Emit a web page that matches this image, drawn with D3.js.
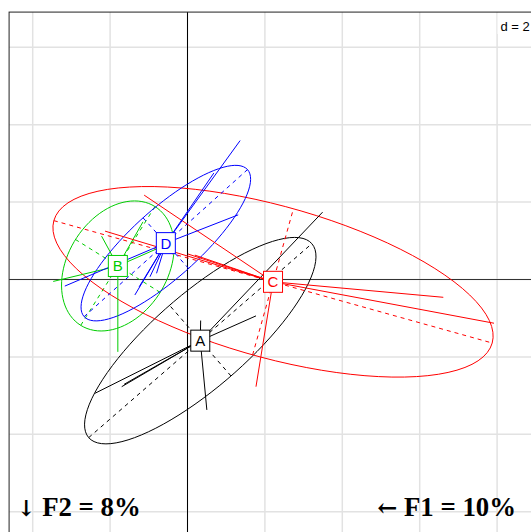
<!DOCTYPE html>
<html><head><meta charset="utf-8">
<script src="https://cdn.jsdelivr.net/npm/d3@7"></script>
<style>html,body{margin:0;padding:0;background:#fff;} svg{display:block}</style>
</head><body>
<svg id="chart" width="531" height="532"></svg>
<script>
// ---- data (factor-map coordinates) ----
const groups = ["A", "B", "C", "D"];
const groupColors = ["#000000", "#00CD00", "#FF0000", "#0000FF"];
const centersX = [0.33, -1.80, 2.21, -0.56];
const centersY = [-1.58, 0.35, -0.06, 0.94];
const pointsA = [[3.49, 1.74], [1.77, -0.94], [0.34, -1.06], [0.50, -3.37], [-2.39, -2.94], [-1.70, -2.77], [-1.64, -2.71]];
const pointsB = [[-1.80, -1.87], [-3.47, -0.05], [-2.22, 1.12], [-1.15, 1.49], [-0.71, 0.83]];
const pointsC = [[6.61, -0.46], [7.92, -1.13], [1.77, -2.77], [-1.12, 2.18], [-2.13, 1.25], [0.19, 0.63], [0.01, 0.66]];
const pointsD = [[1.36, 3.59], [1.31, 1.67], [-3.17, -0.17], [-1.36, -0.40], [-1.25, -0.19], [-0.97, 0.07], [-0.80, 0.16], [0.68, 2.75]];
// ellipse: semi-major, semi-minor, angle of major axis (degrees)
const ellipseMajor = [3.82, 1.81, 5.88, 2.84];
const ellipseMinor = [1.21, 1.29, 1.96, 0.88];
const ellipseAngle = [41, 58, -15.6, 42];
const gridXTicks = [-4, -2, 0, 2, 4, 6, 8];
const gridYTicks = [-6, -4, -2, 0, 2, 4, 6];
const gridLabel = "d = 2";
const axisArrow1 = "\u2190", axisLabel1 = " F1 = 10%";
const axisArrow2 = "\u2193", axisLabel2 = " F2 = 8%";
const xLim = [-4.61, 9.5];
const yLim = [-7.0, 6.91];

const pointSets = [pointsA, pointsB, pointsC, pointsD];

// ---- scales ----
const unit = 38.7;
const x = d3.scaleLinear().domain([0, 1]).range([187.5, 187.5 + unit]);
const y = d3.scaleLinear().domain([0, 1]).range([279.5, 279.5 - unit]);

const svg = d3.select("#chart");
svg.append("rect").attr("width", 531).attr("height", 532).attr("fill", "#fff");

const fx0 = x(xLim[0]), fx1 = x(xLim[1]), fy0 = y(yLim[1]), fy1 = y(yLim[0]);

// grid
const g = svg.append("g");
g.selectAll(".gx").data(gridXTicks).join("line")
  .attr("x1", d => x(d)).attr("x2", d => x(d)).attr("y1", fy0).attr("y2", fy1)
  .attr("stroke", "#e2e2e2").attr("stroke-width", 1.5);
g.selectAll(".gy").data(gridYTicks).join("line")
  .attr("y1", d => y(d)).attr("y2", d => y(d)).attr("x1", fx0).attr("x2", fx1)
  .attr("stroke", "#e2e2e2").attr("stroke-width", 1.5);

// d = 2 box
const dText = svg.append("text").attr("x", 500.5).attr("y", 30.5)
  .attr("font-family", "Liberation Sans, Arial, sans-serif").attr("font-size", 13)
  .text(gridLabel);
const bb = dText.node().getBBox();
svg.insert("rect", "text").attr("x", bb.x - 3).attr("y", fy0 + 0.5).attr("width", bb.width + 40).attr("height", 33.5 - fy0)
  .attr("fill", "#fff");

// axes
svg.append("line").attr("x1", fx0).attr("x2", fx1).attr("y1", y(0)).attr("y2", y(0)).attr("stroke", "#333").attr("stroke-width", 1);
svg.append("line").attr("y1", fy0).attr("y2", fy1).attr("x1", x(0)).attr("x2", x(0)).attr("stroke", "#000").attr("stroke-width", 1);

// ellipses
const lineGen = d3.line().x(d => x(d[0])).y(d => y(d[1]));
groups.forEach((grp, i) => {
  const cx = centersX[i], cy = centersY[i];
  const a = ellipseMajor[i], b = ellipseMinor[i], th = ellipseAngle[i] * Math.PI / 180;
  const c = Math.cos(th), s = Math.sin(th);
  const pts = d3.range(0, 361, 4).map(deg => {
    const t = deg * Math.PI / 180;
    return [cx + a * Math.cos(t) * c - b * Math.sin(t) * s, cy + a * Math.cos(t) * s + b * Math.sin(t) * c];
  });
  svg.append("path").attr("d", lineGen(pts)).attr("fill", "none").attr("stroke", groupColors[i]).attr("stroke-width", 1);
  const axes = [
    [[cx - a * c, cy - a * s], [cx + a * c, cy + a * s]],
    [[cx + b * s, cy - b * c], [cx - b * s, cy + b * c]]
  ];
  axes.forEach(ax => {
    svg.append("path").attr("d", lineGen(ax)).attr("fill", "none").attr("stroke", groupColors[i])
      .attr("stroke-width", 1).attr("stroke-dasharray", "4,4");
  });
});

// stars
groups.forEach((grp, i) => {
  svg.append("g").selectAll("line").data(pointSets[i]).join("line")
    .attr("x1", d => x(d[0])).attr("y1", d => y(d[1]))
    .attr("x2", x(centersX[i])).attr("y2", y(centersY[i]))
    .attr("stroke", groupColors[i]).attr("stroke-width", 1);
});

// labels
groups.forEach((grp, i) => {
  const lg = svg.append("g");
  lg.append("text").attr("x", x(centersX[i])).attr("y", y(centersY[i]) + 5.5)
    .attr("text-anchor", "middle").attr("font-family", "Liberation Sans, Arial, sans-serif")
    .attr("font-size", 15).attr("fill", groupColors[i]).text(grp);
  const w = 19, h = 21;
  lg.insert("rect", "text").attr("x", x(centersX[i]) - w / 2).attr("y", y(centersY[i]) - h / 2)
    .attr("width", w).attr("height", h).attr("fill", "#fff")
    .attr("stroke", groupColors[i]).attr("stroke-width", 1);
});

// frame
svg.append("rect").attr("x", fx0).attr("y", fy0).attr("width", fx1 - fx0).attr("height", fy1 - fy0)
  .attr("fill", "none").attr("stroke", "#222").attr("stroke-width", 1);

// axis titles
function axisTitle(xPos, anchor, arrow, label, arrowSize) {
  const t = svg.append("text").attr("x", xPos).attr("y", 516).attr("text-anchor", anchor)
    .attr("font-family", "Liberation Serif, Times New Roman, serif")
    .attr("font-weight", "bold").attr("font-size", 26.8);
  t.append("tspan").attr("font-family", "DejaVu Serif, serif").attr("font-size", arrowSize).text(arrow);
  t.append("tspan").text(label);
}
axisTitle(17, "start", axisArrow2, axisLabel2, 22);
axisTitle(516, "end", axisArrow1, axisLabel1, 24);
</script>
</body></html>
